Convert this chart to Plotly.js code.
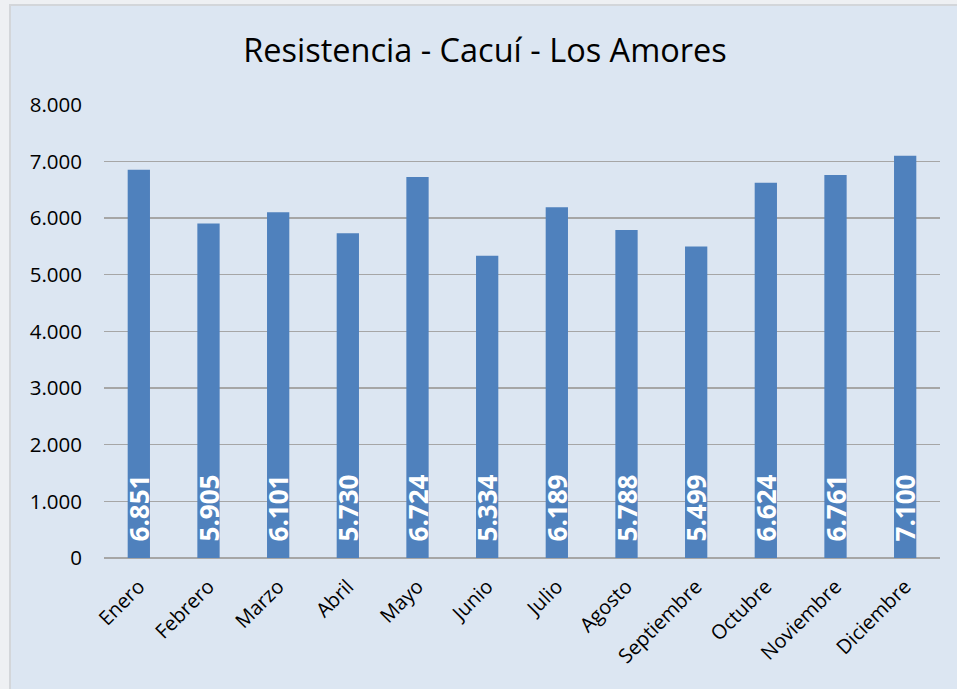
<!DOCTYPE html>
<html>
<head>
<meta charset="utf-8">
<script src="https://cdn.plot.ly/plotly-3.0.1.min.js"></script>
<style>
html,body{margin:0;padding:0;width:957px;height:689px;overflow:hidden;background:#eef0f3;}
#chart{position:absolute;left:9px;top:4px;width:948px;height:685px;border-left:2px solid #d3d6da;border-top:2px solid #d3d6da;}
</style>
</head>
<body>
<div id="chart"></div>
<script>
var months = ["Enero","Febrero","Marzo","Abril","Mayo","Junio","Julio","Agosto","Septiembre","Octubre","Noviembre","Diciembre"];
var values = [6851,5905,6101,5730,6724,5334,6189,5788,5499,6624,6761,7100];
var yTicks = [0,1000,2000,3000,4000,5000,6000,7000,8000];
var chartTitle = "Resistencia - Cacuí - Los Amores";

var trace = {
  type: "bar",
  x: months,
  y: values,
  marker: {color: "#4f81bd"},
  width: 0.32,
  texttemplate: "\u00a0\u00a0%{y:,}",
  textposition: "inside",
  insidetextanchor: "start",
  textangle: -90,
  constraintext: "none",
  textfont: {family: "Open Sans", size: 26, color: "#ffffff", weight: "bold"},
  hoverinfo: "none"
};

var layout = {
  width: 948, height: 685,
  separators: ",.",
  paper_bgcolor: "#dce6f2",
  plot_bgcolor: "#dce6f2",
  margin: {l: 93, r: 19, t: 98, b: 133},
  title: {text: chartTitle, x: 0.5, xanchor: "center", y: 0.935, yanchor: "middle",
          font: {family: "Open Sans", size: 32.5, color: "#000000"}},
  xaxis: {
    type: "category",
    tickangle: -45,
    tickfont: {family: "Open Sans", size: 20, color: "#000000"},
    ticklabelstandoff: 12,
    showgrid: false, showline: false, ticks: "",
    fixedrange: true
  },
  yaxis: {
    range: [0, 8012],
    tickvals: yTicks,
    tickformat: ",",
    tickfont: {family: "Open Sans", size: 20.5, color: "#000000"},
    ticklabelstandoff: 21,
    showgrid: true, gridcolor: "#a6a6a6", gridwidth: 1.5,
    zeroline: true, zerolinecolor: "#a6a6a6", zerolinewidth: 1.5,
    showline: false, ticks: "", ticklen: 0,
    fixedrange: true
  },
  showlegend: false,
  bargap: 0.68
};

Plotly.newPlot("chart", [trace], layout, {displayModeBar: false, staticPlot: true});
</script>
</body>
</html>
